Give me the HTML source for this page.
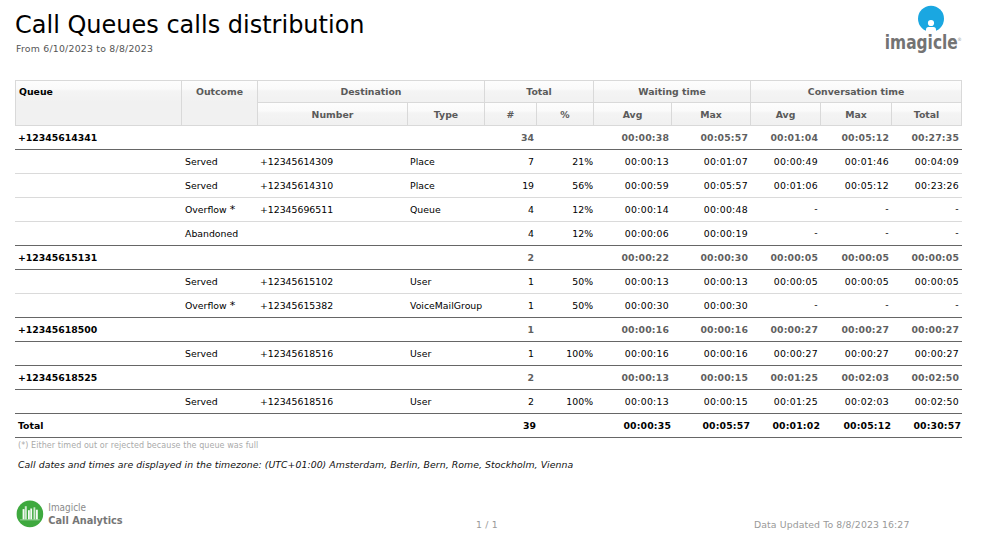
<!DOCTYPE html>
<html><head><meta charset="utf-8">
<style>
*{margin:0;padding:0;box-sizing:border-box}
html,body{width:984px;height:549px;background:#fff;overflow:hidden}
body{position:relative;font-family:"DejaVu Sans","Liberation Sans",sans-serif;color:#000}
.abs{position:absolute;white-space:nowrap}
#title{left:15px;top:10px;font-size:24px;line-height:30px;color:#000}
#sub{left:16px;top:43px;font-size:9.33px;line-height:12px;color:#555;letter-spacing:0.23px}
table{position:absolute;left:15px;top:80px;border-collapse:separate;border-spacing:0;table-layout:fixed;width:947px;font-size:9.33px}
th{font-weight:bold;color:#5a5a5a;background:linear-gradient(#fdfdfd 0px,#fafafa 8px,#f4f4f4 10px,#f1f1f1 21px,#f1f1f1 100%);border-right:1px solid #d9d9d9;border-bottom:1px solid #d9d9d9;text-align:center;white-space:nowrap;padding:0}
tr.h1 th{border-top:1px solid #d9d9d9;height:23px}
tr.h2 th{height:23px}
th.q{border-left:1px solid #d9d9d9;text-align:left;color:#000;vertical-align:top;padding:5px 0 0 3px}
th.o{vertical-align:top;padding-top:5px}
td{height:24px;padding:0 3px;white-space:nowrap;border-bottom:1px solid #dadada}
tr.g td{font-weight:bold;color:#5f5f5f}
tr.g td.qn{color:#000}
tr.dk td{border-bottom-color:#666}
.r{text-align:right}
.ast{font-size:11px;line-height:0;position:relative;top:-0.5px}
.d{position:relative;top:-1px}
td.n{padding-left:2px}
td.p{padding-right:1px}
td.tm{letter-spacing:0.3px}
tr.g td.tm{letter-spacing:0.15px}
tr.t td.r{padding-right:1px}
#foot1{left:18px;top:441px;font-size:8px;color:#aaa;letter-spacing:0.07px}
#tz{left:18px;top:459px;font-size:9.33px;font-style:italic;color:#111;letter-spacing:0.055px}
#pg{left:476px;top:519px;font-size:9.33px;color:#999;letter-spacing:0.2px}
#upd{left:754px;top:519px;font-size:9.33px;color:#999;letter-spacing:0.1px}
</style></head><body>
<div id="title" class="abs">Call Queues calls distribution</div>
<div id="sub" class="abs">From 6/10/2023 to 8/8/2023</div>

<table>
<colgroup>
<col style="width:167px"><col style="width:76px"><col style="width:150px"><col style="width:77px"><col style="width:52px"><col style="width:57px"><col style="width:78px"><col style="width:79px"><col style="width:70px"><col style="width:71px"><col style="width:70px">
</colgroup>
<thead>
<tr class="h1"><th class="q" rowspan="2">Queue</th><th class="o" rowspan="2">Outcome</th><th colspan="2">Destination</th><th colspan="2">Total</th><th colspan="2">Waiting time</th><th colspan="3">Conversation time</th></tr>
<tr class="h2"><th>Number</th><th>Type</th><th>#</th><th>%</th><th>Avg</th><th>Max</th><th>Avg</th><th>Max</th><th>Total</th></tr>
</thead>
<tbody>
<tr class="g dk"><td class="qn">+12345614341</td><td></td><td class="n"></td><td class="n"></td><td class="r">34</td><td class="p"></td><td class="r tm">00:00:38</td><td class="r tm">00:05:57</td><td class="r tm">00:01:04</td><td class="r tm">00:05:12</td><td class="r tm">00:27:35</td></tr>
<tr><td></td><td>Served</td><td class="n">+12345614309</td><td class="n">Place</td><td class="r">7</td><td class="r p">21%</td><td class="r tm">00:00:13</td><td class="r tm">00:01:07</td><td class="r tm">00:00:49</td><td class="r tm">00:01:46</td><td class="r tm">00:04:09</td></tr>
<tr><td></td><td>Served</td><td class="n">+12345614310</td><td class="n">Place</td><td class="r">19</td><td class="r p">56%</td><td class="r tm">00:00:59</td><td class="r tm">00:05:57</td><td class="r tm">00:01:06</td><td class="r tm">00:05:12</td><td class="r tm">00:23:26</td></tr>
<tr><td></td><td>Overflow <span class="ast">*</span></td><td class="n">+12345696511</td><td class="n">Queue</td><td class="r">4</td><td class="r p">12%</td><td class="r tm">00:00:14</td><td class="r tm">00:00:48</td><td class="r tm"><span class="d">-</span></td><td class="r tm"><span class="d">-</span></td><td class="r tm"><span class="d">-</span></td></tr>
<tr class="dk"><td></td><td>Abandoned</td><td class="n"></td><td class="n"></td><td class="r">4</td><td class="r p">12%</td><td class="r tm">00:00:06</td><td class="r tm">00:00:19</td><td class="r tm"><span class="d">-</span></td><td class="r tm"><span class="d">-</span></td><td class="r tm"><span class="d">-</span></td></tr>
<tr class="g dk"><td class="qn">+12345615131</td><td></td><td class="n"></td><td class="n"></td><td class="r">2</td><td class="p"></td><td class="r tm">00:00:22</td><td class="r tm">00:00:30</td><td class="r tm">00:00:05</td><td class="r tm">00:00:05</td><td class="r tm">00:00:05</td></tr>
<tr><td></td><td>Served</td><td class="n">+12345615102</td><td class="n">User</td><td class="r">1</td><td class="r p">50%</td><td class="r tm">00:00:13</td><td class="r tm">00:00:13</td><td class="r tm">00:00:05</td><td class="r tm">00:00:05</td><td class="r tm">00:00:05</td></tr>
<tr class="dk"><td></td><td>Overflow <span class="ast">*</span></td><td class="n">+12345615382</td><td class="n">VoiceMailGroup</td><td class="r">1</td><td class="r p">50%</td><td class="r tm">00:00:30</td><td class="r tm">00:00:30</td><td class="r tm"><span class="d">-</span></td><td class="r tm"><span class="d">-</span></td><td class="r tm"><span class="d">-</span></td></tr>
<tr class="g dk"><td class="qn">+12345618500</td><td></td><td class="n"></td><td class="n"></td><td class="r">1</td><td class="p"></td><td class="r tm">00:00:16</td><td class="r tm">00:00:16</td><td class="r tm">00:00:27</td><td class="r tm">00:00:27</td><td class="r tm">00:00:27</td></tr>
<tr class="dk"><td></td><td>Served</td><td class="n">+12345618516</td><td class="n">User</td><td class="r">1</td><td class="r p">100%</td><td class="r tm">00:00:16</td><td class="r tm">00:00:16</td><td class="r tm">00:00:27</td><td class="r tm">00:00:27</td><td class="r tm">00:00:27</td></tr>
<tr class="g dk"><td class="qn">+12345618525</td><td></td><td class="n"></td><td class="n"></td><td class="r">2</td><td class="p"></td><td class="r tm">00:00:13</td><td class="r tm">00:00:15</td><td class="r tm">00:01:25</td><td class="r tm">00:02:03</td><td class="r tm">00:02:50</td></tr>
<tr class="dk"><td></td><td>Served</td><td class="n">+12345618516</td><td class="n">User</td><td class="r">2</td><td class="r p">100%</td><td class="r tm">00:00:13</td><td class="r tm">00:00:15</td><td class="r tm">00:01:25</td><td class="r tm">00:02:03</td><td class="r tm">00:02:50</td></tr>
<tr class="g dk t"><td class="qn">Total</td><td></td><td class="n"></td><td class="n"></td><td class="r qn">39</td><td class="p"></td><td class="r qn tm">00:00:35</td><td class="r qn tm">00:05:57</td><td class="r qn tm">00:01:02</td><td class="r qn tm">00:05:12</td><td class="r qn tm">00:30:57</td></tr>
</tbody>
</table>


<svg class="abs" style="left:880px;top:0" width="100" height="60" viewBox="0 0 100 60">
<circle cx="51" cy="18.8" r="13" fill="#1aa7e1"/>
<circle cx="51" cy="23" r="3.1" fill="#fff"/>
<rect x="46" y="27.1" width="10" height="8" rx="2.6" fill="#fff"/>
<text x="4.8" y="49.4" font-family="DejaVu Sans, Liberation Sans, sans-serif" font-weight="bold" font-size="20" fill="#737373" textLength="73" lengthAdjust="spacingAndGlyphs">imagicle</text>
<text x="77.2" y="40.6" font-family="DejaVu Sans, Liberation Sans, sans-serif" font-size="4.5" fill="#999">®</text>
</svg>
<svg class="abs" style="left:0;top:490px" width="140" height="50" viewBox="0 490 140 50">
<circle cx="29.9" cy="513.9" r="13.3" fill="#3fa93f"/>
<g fill="#fff">
<rect x="22.6" y="509.1" width="1.9" height="10.2" opacity="0.95"/>
<rect x="24.8" y="506.2" width="2" height="13.1" opacity="0.75"/>
<rect x="28" y="510.2" width="1.8" height="9.1" opacity="0.95"/>
<rect x="30.3" y="508.5" width="1.8" height="10.8" opacity="0.95"/>
<rect x="33.5" y="507.3" width="1.8" height="12" opacity="0.75"/>
<rect x="35.9" y="509.7" width="1.9" height="9.6" opacity="0.95"/>
<rect x="20.1" y="519.3" width="19.6" height="1.1" opacity="0.45"/>
</g>
<text x="48.3" y="510.7" font-family="DejaVu Sans, Liberation Sans, sans-serif" font-size="10" fill="#8a8a8a" textLength="37.7" lengthAdjust="spacingAndGlyphs">Imagicle</text>
<text x="48.3" y="524.1" font-family="DejaVu Sans, Liberation Sans, sans-serif" font-weight="bold" font-size="11" fill="#767676" textLength="74.3" lengthAdjust="spacingAndGlyphs">Call Analytics</text>
</svg>
<div id="foot1" class="abs">(*) Either timed out or rejected because the queue was full</div>
<div id="tz" class="abs">Call dates and times are displayed in the timezone: (UTC+01:00) Amsterdam, Berlin, Bern, Rome, Stockholm, Vienna</div>
<div id="pg" class="abs">1 / 1</div>
<div id="upd" class="abs">Data Updated To 8/8/2023 16:27</div>
</body></html>
